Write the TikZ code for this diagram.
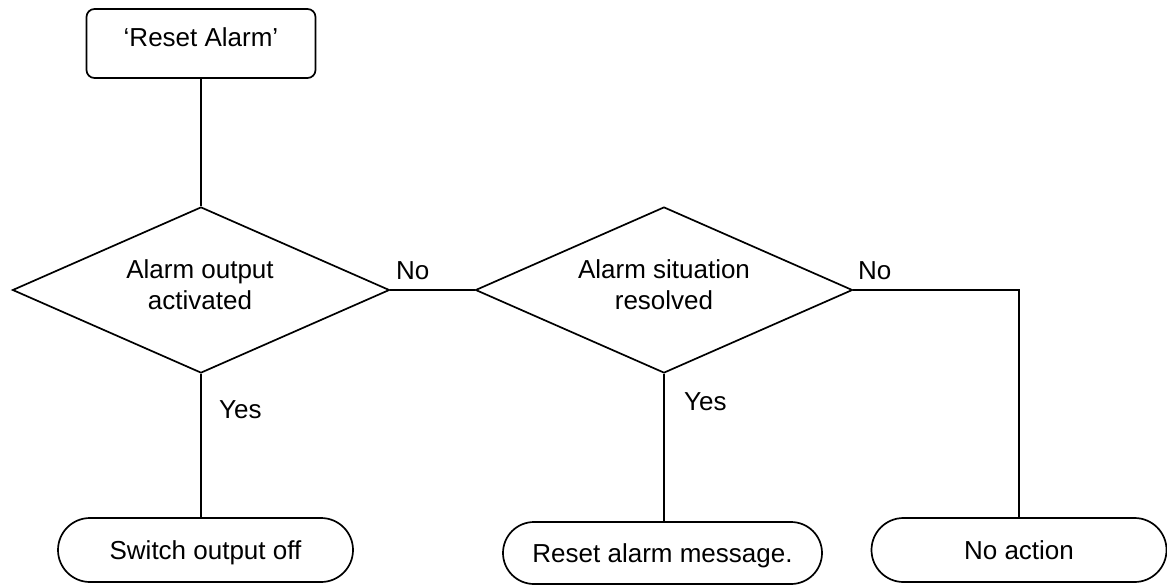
\documentclass[tikz,border=0pt]{standalone}
\usepackage{fontspec}
\setmainfont{Liberation Sans}
\usetikzlibrary{shapes.geometric,shapes.misc}
\begin{document}
\begin{tikzpicture}[x=1pt,y=1pt,
  every node/.style={font=\fontsize{26}{31}\selectfont},
  line/.style={line width=1.7pt, black},
  startbox/.style={draw, line width=1.7pt, rectangle, rounded corners=8pt, minimum width=229pt, minimum height=69pt, text height=18.6pt, text depth=13pt, inner sep=0pt},
  decision/.style={draw, line width=1.7pt, diamond, minimum width=377pt, minimum height=166pt, inner sep=0pt},
  dtext/.style={align=center, inner sep=0pt},
  terminal/.style={draw, line width=1.7pt, rounded rectangle, minimum height=64pt, text height=18.6pt, text depth=0pt, inner sep=0pt},
  lbl/.style={anchor=base west, inner sep=0pt}]
\useasboundingbox (0,0) rectangle (1167,-584);
\node[startbox] (start) at (201,-43.5) {‘Reset Alarm’};
\node[decision] (d1) at (201,-290) {};
\node[dtext] (d1t) at (200,-285) {Alarm output\\activated};
\node[decision] (d2) at (664,-290) {};
\node[dtext] (d2t) at (664,-285) {Alarm situation\\resolved};
\node[terminal, minimum width=295pt] (sw) at (205.5,-550) {Switch output off};
\node[terminal, minimum width=319pt, minimum height=62pt] (rst) at (662.5,-553) {Reset alarm message.};
\node[terminal, minimum width=295pt] (na) at (1019,-550) {No action};
\draw[line] (start.south) -- (d1.north);
\draw[line] (d1.east) -- (d2.west);
\draw[line] (d1.south) -- (d1.south |- sw.north);
\draw[line] (d2.south) -- (d2.south |- rst.north);
\draw[line] (d2.east) -| (na.north);
\node[lbl] (no1) at (396,-279) {No};
\node[lbl] (no2) at (858,-279) {No};
\node[lbl] (yes1) at (219,-418) {Yes};
\node[lbl] (yes2) at (684,-410) {Yes};
\end{tikzpicture}
\end{document}
